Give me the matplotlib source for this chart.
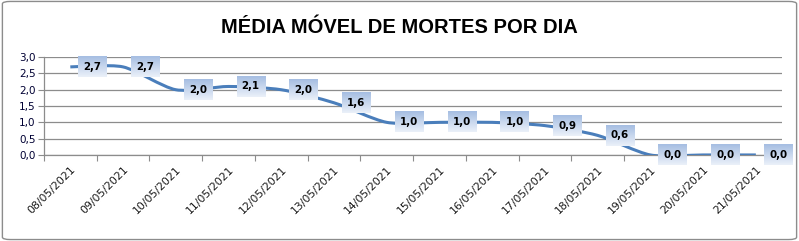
import matplotlib
matplotlib.use("Agg")
import matplotlib.pyplot as plt
from matplotlib.path import Path
from matplotlib.patches import PathPatch, FancyBboxPatch
import numpy as np

dates = ["08/05/2021", "09/05/2021", "10/05/2021", "11/05/2021", "12/05/2021",
         "13/05/2021", "14/05/2021", "15/05/2021", "16/05/2021", "17/05/2021",
         "18/05/2021", "19/05/2021", "20/05/2021", "21/05/2021"]
values = [2.7, 2.7, 2.0, 2.1, 2.0, 1.6, 1.0, 1.0, 1.0, 0.9, 0.6, 0.0, 0.0, 0.0]
yticks = [0.0, 0.5, 1.0, 1.5, 2.0, 2.5, 3.0]
title = "MÉDIA MÓVEL DE MORTES POR DIA"

def fmt(v):
    return f"{v:.1f}".replace(".", ",")

fig = plt.figure(figsize=(7.99, 2.41), dpi=100)
fig.patch.set_facecolor("white")
border = FancyBboxPatch((0.003, 0.006), 0.994, 0.988, boxstyle="round,pad=0,rounding_size=0.01",
                        transform=fig.transFigure, fill=False, edgecolor="#8c8c8c", linewidth=1.0)
fig.patches.append(border)

ax = fig.add_axes([0.055, 0.357, 0.924, 0.406])
x = np.arange(len(values))
ax.set_xlim(-0.5, len(values) - 0.5)
ax.set_ylim(0, 3.0)

# smoothed line (cubic Bezier through the points) in data coordinates
pts = np.column_stack([x, values]).astype(float)
verts = [tuple(pts[0])]
codes = [Path.MOVETO]
n = len(pts)
k = 8.0
for i in range(n - 1):
    p0 = pts[i - 1] if i > 0 else pts[i]
    p1 = pts[i]
    p2 = pts[i + 1]
    p3 = pts[i + 2] if i + 2 < n else pts[i + 1]
    c1 = p1 + (p2 - p0) / k
    c2 = p2 - (p3 - p1) / k
    verts += [tuple(c1), tuple(c2), tuple(p2)]
    codes += [Path.CURVE4, Path.CURVE4, Path.CURVE4]
ax.add_patch(PathPatch(Path(verts, codes), facecolor="none", edgecolor="#4a7ebb",
                       linewidth=2.2, capstyle="butt", zorder=3))

anns = []
for xi, v in zip(x, values):
    a = ax.annotate(fmt(v), (xi, v), xytext=(9.5, 0), textcoords="offset points",
                    ha="left", va="center", fontsize=7.4, fontweight="bold", color="black",
                    family="DejaVu Sans",
                    bbox=dict(boxstyle="square,pad=0.5", facecolor="none", edgecolor="none"),
                    zorder=6, annotation_clip=False)
    anns.append(a)

ax.set_yticks(yticks)
ax.set_yticklabels([fmt(t) for t in yticks], fontsize=7.5, color="#000033")
ax.yaxis.grid(True, color="#8c8c8c", linewidth=0.9)
ax.set_axisbelow(True)

ax.set_xticks(np.arange(len(values) + 1) - 0.5, minor=False)
ax.set_xticklabels([])
ax.set_xticks(x, minor=True)
ax.set_xticklabels(dates, minor=True, rotation=45, ha="right", rotation_mode="anchor",
                   fontsize=7.8, color="#1a1a1a")
ax.tick_params(axis="x", which="major", length=4, color="#8c8c8c", direction="out")
ax.tick_params(axis="x", which="minor", length=0, pad=7)
ax.tick_params(axis="y", length=4, color="#8c8c8c", pad=2)

for s in ["top", "right"]:
    ax.spines[s].set_visible(False)
for s in ["left", "bottom"]:
    ax.spines[s].set_color("#8c8c8c")
    ax.spines[s].set_linewidth(0.9)

fig.text(0.5, 0.885, title, ha="center", va="center", fontsize=14.5, fontweight="bold",
         family="Liberation Sans", color="black")

# gradient boxes behind data labels
fig.canvas.draw()
grad = np.linspace(0, 1, 32).reshape(-1, 1)
from matplotlib.colors import LinearSegmentedColormap
cmap = LinearSegmentedColormap.from_list("lbl", ["#a6bee2", "#eaf0f9"])
inv = ax.transData.inverted()
for a in anns:
    bb = a.get_bbox_patch().get_window_extent()
    (x0, y0) = inv.transform((bb.x0, bb.y0))
    (x1, y1) = inv.transform((bb.x1, bb.y1))
    ax.imshow(grad, extent=(x0, x1, y0, y1), origin="upper", cmap=cmap, aspect="auto",
              zorder=5, clip_on=False, interpolation="bilinear")
ax.set_xlim(-0.5, len(values) - 0.5)
ax.set_ylim(0, 3.0)

fig.savefig("out.png", dpi=100, facecolor="white")
